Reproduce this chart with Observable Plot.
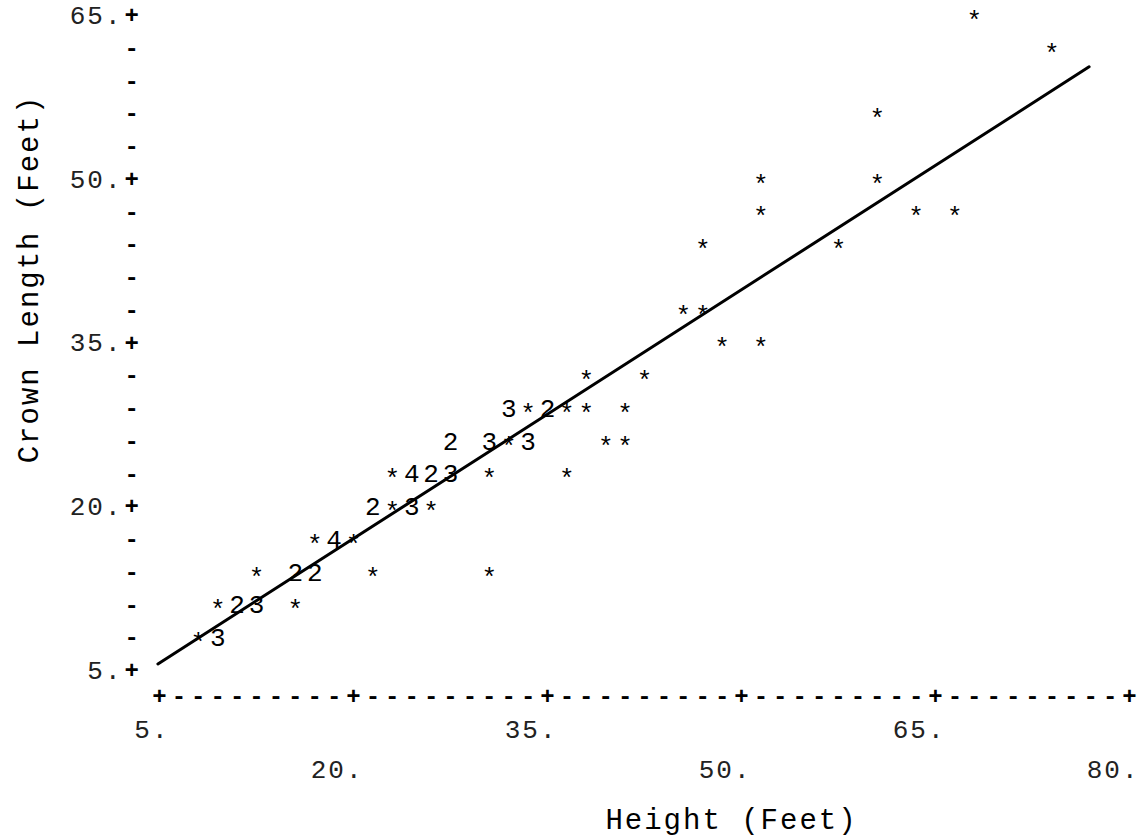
<!DOCTYPE html>
<html>
<head>
<meta charset="utf-8">
<script src="https://cdn.jsdelivr.net/npm/d3@7"></script>
<script src="https://cdn.jsdelivr.net/npm/@observablehq/plot@0.6"></script>
<style>
  html, body { margin: 0; padding: 0; background: #fff; }
  svg text { letter-spacing: 2px; }
</style>
</head>
<body>
<div id="chart"></div>
<script>
// Printer-plot cells: height (ft), crown length (ft), number of trees in the cell
const heights = [68, 74, 60.5, 51.5, 60.5, 51.5, 63.5, 66.5, 47, 57.5, 45.5, 47, 48.5, 51.5, 38, 42.5,
  32, 33.5, 35, 36.5, 38, 41,
  27.5, 30.5, 32, 33.5, 39.5, 41,
  23, 24.5, 26, 27.5, 30.5, 36.5,
  21.5, 23, 24.5, 26,
  17, 18.5, 20,
  12.5, 15.5, 17, 21.5, 30.5,
  9.5, 11, 12.5, 15.5,
  8, 9.5];
const crowns = [65, 62, 56, 50, 50, 47, 47, 47, 44, 44, 38, 38, 35, 35, 32, 32,
  29, 29, 29, 29, 29, 29,
  26, 26, 26, 26, 26, 26,
  23, 23, 23, 23, 23, 23,
  20, 20, 20, 20,
  17, 17, 17,
  14, 14, 14, 14, 14,
  11, 11, 11, 11,
  8, 8];
const counts = [1, 1, 1, 1, 1, 1, 1, 1, 1, 1, 1, 1, 1, 1, 1, 1,
  3, 1, 2, 1, 1, 1,
  2, 3, 1, 3, 1, 1,
  1, 4, 2, 3, 1, 1,
  2, 1, 3, 1,
  1, 4, 1,
  1, 2, 2, 1, 1,
  1, 2, 3, 1,
  1, 3];

// Fitted regression line endpoints
const fitHeights = [4.8, 76.8];
const fitCrowns = [5.6, 60.3];

// Axis ticks and labels
const xTicks = [5, 20, 35, 50, 65, 80];
const yTicks = [5, 20, 35, 50, 65];
const xLabel = "Height (Feet)";
const yLabel = "Crown Length (Feet)";

const points = heights.map((h, i) => ({h, c: crowns[i], n: counts[i]}));
const fit = fitHeights.map((h, i) => ({h, c: fitCrowns[i]}));
const xCols = d3.range(5, 80.01, 1.5);
const yRows = d3.range(5, 65.01, 3);

const chart = Plot.plot({
  width: 1140,
  height: 839,
  marginLeft: 160,
  marginRight: 10,
  marginTop: 15,
  marginBottom: 169,
  x: {domain: [5, 80], axis: null},
  y: {domain: [5, 65], axis: null},
  style: {fontFamily: "Liberation Mono", background: "white", color: "black"},
  marks: [
    // x axis made of characters
    Plot.text(xCols, {x: d => d, text: d => xTicks.some(t => Math.abs(t - d) < 1e-6) ? "+" : "-",
      frameAnchor: "bottom", dy: 33, fontSize: 24, fontWeight: "bold", fill: "black"}),
    Plot.text(xTicks.filter((d, i) => i % 2 === 0), {x: d => d, text: d => d + ".",
      frameAnchor: "bottom", dy: 67, textAnchor: "end", dx: 9, fontSize: 26, fill: "#222"}),
    Plot.text(xTicks.filter((d, i) => i % 2 === 1), {x: d => d, text: d => d + ".",
      frameAnchor: "bottom", dy: 107, textAnchor: "end", dx: 9, fontSize: 26, fill: "#222"}),
    // y axis made of characters
    Plot.text(yRows, {y: d => d, text: d => yTicks.some(t => Math.abs(t - d) < 1e-6) ? "+" : "-",
      frameAnchor: "left", dx: -36, fontSize: 24, fontWeight: "bold", fill: "black"}),
    Plot.text(yTicks, {y: d => d, text: d => d + ".", frameAnchor: "left", dx: -38,
      textAnchor: "end", fontSize: 26, fill: "#222"}),
    // axis titles
    Plot.text([xLabel], {text: d => d, frameAnchor: "bottom", dy: 158, dx: 86, fontSize: 29, fill: "black"}),
    Plot.text([yLabel], {text: d => d, frameAnchor: "left", textAnchor: "middle", dx: -132, dy: -64,
      rotate: -90, fontSize: 29, fill: "black"}),
    // regression line
    Plot.line(fit, {x: "h", y: "c", stroke: "black", strokeWidth: 3}),
    // data characters
    Plot.text(points.filter(d => d.n === 1), {x: "h", y: "c", text: () => "*", dy: 5, fontSize: 26, fill: "black"}),
    Plot.text(points.filter(d => d.n > 1), {x: "h", y: "c", text: d => String(d.n), fontSize: 26, fill: "black"})
  ]
});
document.getElementById("chart").append(chart);
</script>
</body>
</html>
